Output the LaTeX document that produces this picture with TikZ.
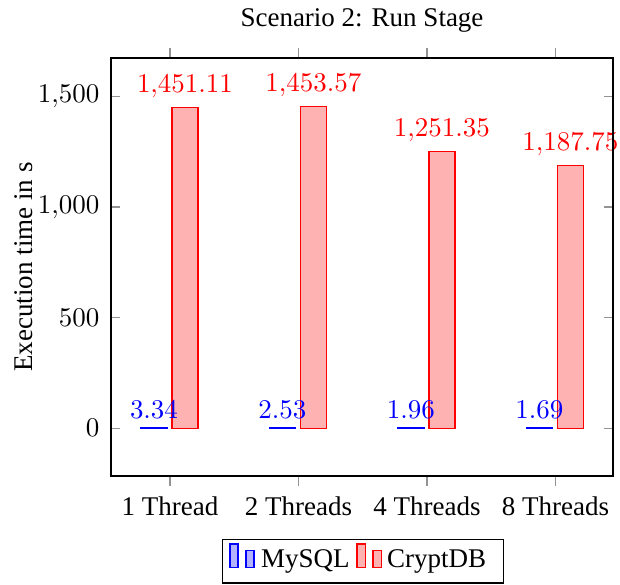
\documentclass[tikz,border=0pt]{standalone}
\usepackage{fontspec}
\setmainfont{Liberation Serif}
\begin{document}
\begin{tikzpicture}[x=0.37037pt,y=-0.37037pt,
  tickmark/.style={draw=gray!85, line width=0.4pt},
  mysqlbar/.style={draw=blue, fill=blue!30, line width=0.4pt},
  cryptbar/.style={draw=red, fill=red!30, line width=0.4pt},
  mysqllab/.style={text=blue, anchor=south},
  cryptlab/.style={text=red, anchor=south},
  ticklab/.style={anchor=base},
  ylab/.style={anchor=east},
  legtext/.style={anchor=base west, inner sep=0pt},
  axisframe/.style={draw=black, line width=0.4pt},
  ]
\useasboundingbox (0,0) rectangle (620,585);
% bars and value labels
\foreach \i/\x/\a/\b/\at/\bt/\lab in {
  1/170/3.34/1451.11/3.34/1{,}451.11/1 Thread,
  2/298.5/2.53/1453.57/2.53/1{,}453.57/2 Threads,
  3/427/1.96/1251.35/1.96/1{,}251.35/4 Threads,
  4/555.5/1.69/1187.75/1.69/1{,}187.75/8 Threads}{
  \draw[mysqlbar] ({\x-29},428.3) rectangle ({\x-3},{428.3-0.2213*\a});
  \draw[cryptbar] ({\x+2},428.3) rectangle ({\x+28},{428.3-0.2213*\b});
  \node[mysqllab] (m\i) at ({\x-16},{428.3-0.2213*\a}) {$\at$};
  \node[cryptlab] (c\i) at ({\x+15},{428.3-0.2213*\b}) {$\bt$};
  \draw[tickmark] (\x,476) -- (\x,486);
  \draw[tickmark] (\x,58) -- (\x,48);
  \node[ticklab] (x\i) at (\x,516) {\lab};
}
% y ticks
\foreach \v/\t in {0/0,500/500,1000/1{,}000,1500/1{,}500}{
  \draw[tickmark] (111,{428.3-0.2213*\v}) -- (120,{428.3-0.2213*\v});
  \draw[tickmark] (613,{428.3-0.2213*\v}) -- (604,{428.3-0.2213*\v});
  \node[ylab] (y\v) at (109,{428.3-0.2213*\v}) {$\t$};
}
% axis frame
\draw[axisframe] (111,58) rectangle (613,476);
% title and axis label
\node[anchor=base] (title) at (362,27) {Scenario 2: Run Stage};
\node[rotate=90, anchor=base] (ylabel) at (32,267) {Execution time in s};
% legend
\draw[axisframe] (222.7,539.3) rectangle (503.5,583);
\draw[mysqlbar] (230,567.7) rectangle (238,544);
\draw[mysqlbar] (246,567.7) rectangle (254,550.7);
\node[legtext] (lm) at (260.5,567.7) {MySQL};
\draw[cryptbar] (357,567.7) rectangle (365.5,544);
\draw[cryptbar] (373,567.7) rectangle (381.5,550.7);
\node[legtext] (lc) at (386.5,567.7) {CryptDB};
\end{tikzpicture}
\end{document}
